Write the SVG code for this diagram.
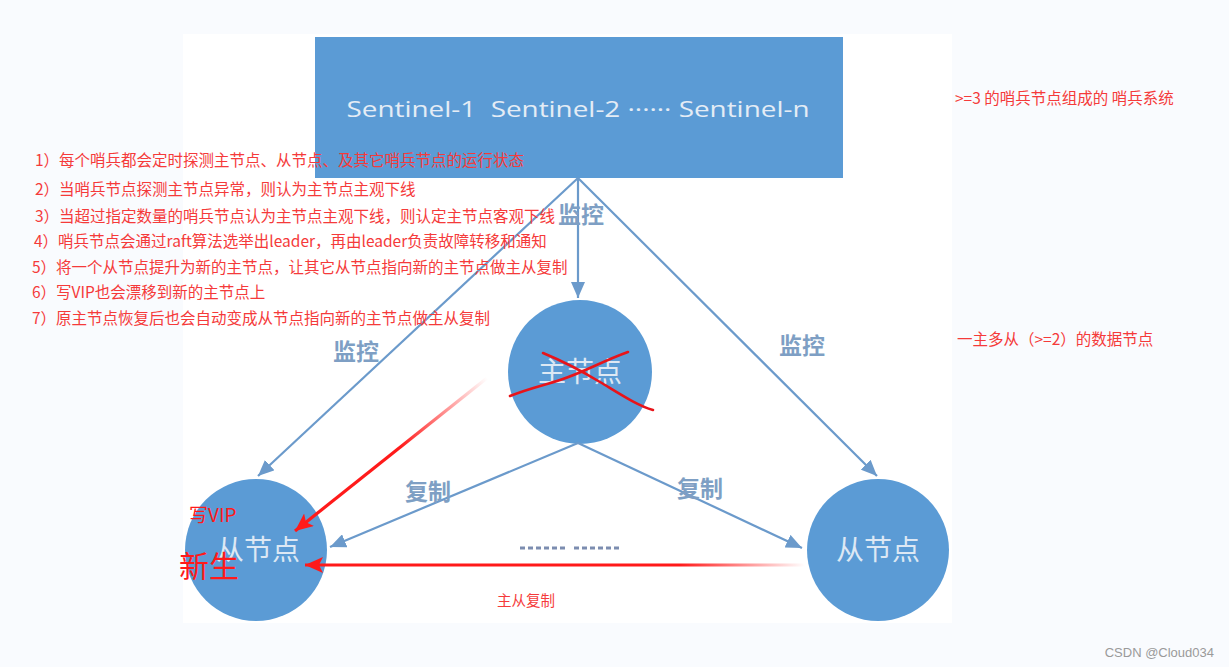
<svg xmlns="http://www.w3.org/2000/svg" width="1229" height="667" viewBox="0 0 1229 667">
<style>
.note{font-family:"Noto Sans CJK SC","Noto Sans",sans-serif;fill:#f53a3a;font-size:15.5px}
.side{font-family:"Noto Sans CJK SC","Noto Sans",sans-serif;fill:#f53a3a;font-size:15.5px}
.big{font-family:"Noto Sans CJK SC",sans-serif;fill:#ff1a1a}
.lbl{font-family:"Noto Sans CJK SC",sans-serif;fill:#7e9fc4;font-size:23px;font-weight:bold;text-anchor:middle;dominant-baseline:central}
.ntxt{font-family:"Noto Sans CJK SC",sans-serif;fill:#dde8f4;font-size:28px;text-anchor:middle;dominant-baseline:central}
.node{fill:#5b9bd5}
.blue{stroke:#6b9acb;stroke-width:2.2;fill:none}
.red{stroke-width:3.2;fill:none}
</style>
<defs>
<marker id="ab" markerUnits="userSpaceOnUse" markerWidth="18" markerHeight="14" refX="16" refY="7" orient="auto"><path d="M0,0 L16,7 L0,14 Z" fill="#6b9acb"/></marker>
<marker id="ar" markerUnits="userSpaceOnUse" markerWidth="20" markerHeight="16" refX="18" refY="8" orient="auto"><path d="M0,0 L18,8 L0,16 L4,8 Z" fill="#ff1a1a"/></marker>
<linearGradient id="gd" gradientUnits="userSpaceOnUse" x1="487" y1="378" x2="293" y2="532"><stop offset="0" stop-color="#ff1a1a" stop-opacity="0"/><stop offset="0.45" stop-color="#ff1a1a" stop-opacity="1"/><stop offset="1" stop-color="#ff1a1a"/></linearGradient>
<linearGradient id="gh" gradientUnits="userSpaceOnUse" x1="805" y1="0" x2="303" y2="0"><stop offset="0" stop-color="#ff1a1a" stop-opacity="0"/><stop offset="0.25" stop-color="#ff1a1a" stop-opacity="1"/><stop offset="1" stop-color="#ff1a1a"/></linearGradient>
</defs>
<rect x="0" y="0" width="1229" height="667" fill="#f9fbfe"/>
<rect x="183" y="34" width="769" height="589" fill="#ffffff"/>

<g id="sentinels">
<rect x="315" y="37" width="528" height="141" fill="#5b9bd5"/>
<text x="578" y="108" font-family="'Open Sans','Noto Sans',sans-serif" font-size="22" fill="#e4ecf5" text-anchor="middle" dominant-baseline="central" textLength="463" lengthAdjust="spacingAndGlyphs" xml:space="preserve">Sentinel-1  Sentinel-2 ······ Sentinel-n</text>
</g>

<g id="master">
<circle class="node" cx="580" cy="372" r="72"/>
<text class="ntxt" x="580" y="370">主节点</text>
<path d="M510,396 C530,388 545,385 560,380 C585,372 600,362 628,352" stroke="#e8141a" stroke-width="2.6" fill="none" stroke-linecap="round"/>
<path d="M543,353 C565,362 580,370 600,382 C620,394 638,406 653,410" stroke="#e8141a" stroke-width="2.6" fill="none" stroke-linecap="round"/>
</g>

<g id="slave-left">
<circle class="node" cx="256" cy="550" r="71"/>
<text class="ntxt" x="258" y="548">从节点</text>
</g>

<g id="slave-right">
<circle class="node" cx="878" cy="550" r="71"/>
<text class="ntxt" x="878" y="548">从节点</text>
</g>

<g id="connectors">
<path class="blue" d="M578,178 L258,476" marker-end="url(#ab)"/>
<path class="blue" d="M578,178 L578,298" marker-end="url(#ab)"/>
<path class="blue" d="M578,178 L877,476" marker-end="url(#ab)"/>
<path class="blue" d="M578,443 L330,547" marker-end="url(#ab)"/>
<path class="blue" d="M578,443 L802,548" marker-end="url(#ab)"/>
<text class="lbl" x="356" y="350">监控</text>
<text class="lbl" x="581" y="213">监控</text>
<text class="lbl" x="802" y="344">监控</text>
<text class="lbl" x="428" y="490">复制</text>
<text class="lbl" x="700" y="487">复制</text>
<path d="M520,548 H568 M574,548 H622" stroke="#7c8db0" stroke-width="3" stroke-dasharray="5,3" fill="none"/>
<path class="red" d="M487,378 L295,531" stroke="url(#gd)" marker-end="url(#ar)"/>
<path class="red" d="M805,565 L305,565" stroke="url(#gh)" marker-end="url(#ar)"/>
</g>

<g id="notes">
<text class="note" x="35" y="166">1）每个哨兵都会定时探测主节点、从节点、及其它哨兵节点的运行状态</text>
<text class="note" x="35" y="195">2）当哨兵节点探测主节点异常，则认为主节点主观下线</text>
<text class="note" x="35" y="222">3）当超过指定数量的哨兵节点认为主节点主观下线，则认定主节点客观下线</text>
<text class="note" x="34" y="247">4）哨兵节点会通过raft算法选举出leader，再由leader负责故障转移和通知</text>
<text class="note" x="32" y="273">5）将一个从节点提升为新的主节点，让其它从节点指向新的主节点做主从复制</text>
<text class="note" x="32" y="298">6）写VIP也会漂移到新的主节点上</text>
<text class="note" x="32" y="324">7）原主节点恢复后也会自动变成从节点指向新的主节点做主从复制</text>
<text class="side" x="955" y="104">&gt;=3 的哨兵节点组成的 哨兵系统</text>
<text class="side" x="957" y="345">一主多从（&gt;=2）的数据节点</text>
<text class="big" x="189" y="522" font-size="19">写VIP</text>
<text class="big" x="179" y="577" font-size="30">新生</text>
<text class="side" x="497" y="606" style="font-size:14.5px">主从复制</text>
<text x="1214" y="657" font-family="'Liberation Sans',sans-serif" font-size="13" fill="#9a9a9a" text-anchor="end">CSDN @Cloud034</text>
</g>
</svg>
